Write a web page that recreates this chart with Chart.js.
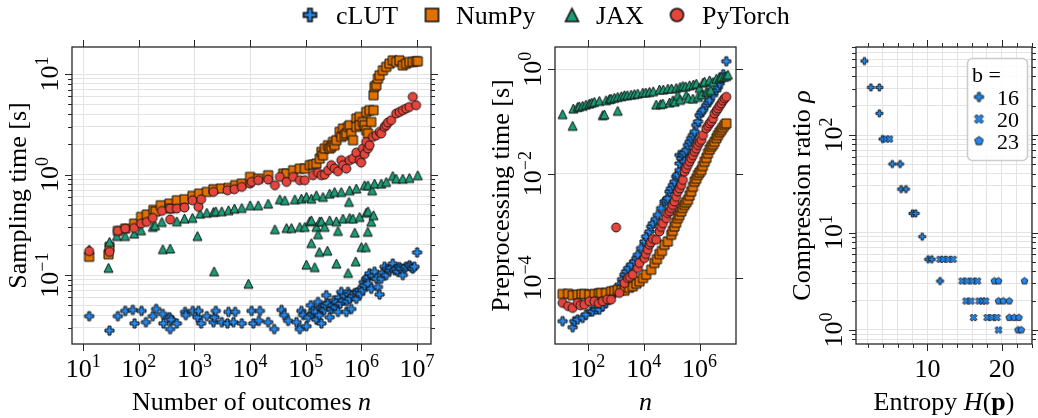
<!DOCTYPE html>
<html>
<head>
<meta charset="utf-8">
<script src="https://cdn.jsdelivr.net/npm/chart.js@4.4.1/dist/chart.umd.min.js"></script>
<style>
  body { margin: 0; background: #fff; width: 1038px; height: 418px; overflow: hidden; position: relative; }
  canvas { position: absolute; left: 0; top: 0; }
</style>
</head>
<body>
<canvas id="c1" width="1038" height="418"></canvas>
<canvas id="c2" width="1038" height="418"></canvas>
<canvas id="c3" width="1038" height="418"></canvas>
<script>
// ---------- data ----------
const seriesNames = ['cLUT', 'NumPy', 'JAX', 'PyTorch'];
const seriesColors = ['#2389f0', '#e07000', '#1b9e77', '#e5453b'];

// panel 1: sampling time [s] vs number of outcomes n
const sampleCLUT = [[12.8,0.039],[29.7,0.028],[42,0.039],[57,0.044],[78,0.045],[84,0.033],[112,0.044],[134,0.034],[178,0.039],[205,0.046],[270,0.041],[277,0.033],[356,0.038],[366,0.029],[380,0.036],[482,0.033],[679,0.043],[698,0.040],[933,0.044],[1132,0.038],[1180,0.044],[1318,0.033],[1667,0.039],[2193,0.034],[2287,0.038],[2417,0.044],[3097,0.034],[3917,0.033],[4083,0.043],[5023,0.034],[5383,0.043],[7080,0.033],[10640,0.044],[11400,0.033],[14400,0.035],[15000,0.044],[21100,0.034],[27100,0.029],[36700,0.045],[40900,0.040],[48300,0.035],[68100,0.034],[78100,0.029],[83600,0.044],[89600,0.040],[102800,0.031],[110000,0.038],[123000,0.050],[130000,0.041],[135000,0.044],[150000,0.043],[155000,0.036],[166000,0.054],[175000,0.040],[185000,0.047],[191000,0.033],[204000,0.046],[215000,0.045],[225000,0.050],[234000,0.063],[250000,0.052],[269000,0.038],[288000,0.046],[300000,0.050],[320000,0.056],[340000,0.048],[354000,0.054],[379000,0.043],[400000,0.060],[420000,0.052],[435000,0.068],[466000,0.056],[500000,0.062],[535000,0.043],[550000,0.055],[573000,0.068],[600000,0.064],[614000,0.058],[658000,0.046],[700000,0.062],[755000,0.066],[808000,0.058],[850000,0.067],[927000,0.071],[950000,0.065],[1.06e6,0.071],[1.1e6,0.085],[1.14e6,0.079],[1.22e6,0.092],[1.3e6,0.095],[1.31e6,0.082],[1.40e6,0.104],[1.50e6,0.073],[1.6e6,0.098],[1.72e6,0.108],[1.85e6,0.092],[1.98e6,0.076],[2.12e6,0.064],[2.27e6,0.092],[2.4e6,0.105],[2.60e6,0.121],[2.79e6,0.100],[2.9e6,0.115],[3.19e6,0.112],[3.4e6,0.118],[3.66e6,0.130],[3.93e6,0.112],[4.2e6,0.115],[4.51e6,0.108],[4.8e6,0.120],[5.17e6,0.116],[5.54e6,0.100],[6.0e6,0.117],[6.35e6,0.121],[7.29e6,0.125],[7.8e6,0.120],[8.36e6,0.116],[8.96e6,0.121],[1.0e7,0.168]];
const sampleNumPy = [[12.8,0.152],[28.5,0.161],[29.7,0.191],[42,0.275],[57,0.29],[82.4,0.325],[110,0.379],[139,0.40],[183,0.445],[200,0.43],[248,0.495],[356,0.514],[366,0.459],[482,0.555],[661,0.568],[920,0.613],[1213,0.647],[1667,0.672],[2193,0.715],[3013,0.726],[4083,0.737],[5383,0.783],[7080,0.813],[10000,0.948],[14000,0.912],[21100,0.985],[39300,1.023],[45100,1.023],[59300,1.104],[78100,1.147],[95900,1.147],[118000,1.24],[135000,1.258],[155000,1.286],[178000,1.443],[191000,1.68],[204000,1.556],[219000,1.815],[251000,1.958],[269000,1.815],[288000,1.884],[309000,2.113],[330000,1.958],[354000,2.197],[406000,2.66],[435000,2.37],[466000,2.87],[500000,2.46],[535000,2.56],[573000,2.98],[614000,3.1],[658000,2.56],[705000,2.197],[808000,3.61],[808000,2.98],[927000,3.75],[927000,3.1],[1.06e6,3.34],[1.14e6,3.1],[1.22e6,4.2],[1.22e6,2.76],[1.31e6,2.56],[1.40e6,4.37],[1.50e6,3.34],[1.65e6,4.37],[1.65e6,6.16],[1.72e6,7.45],[1.85e6,7.74],[1.98e6,9.02],[2.12e6,9.73],[2.43e6,10.9],[2.79e6,11.8],[3.19e6,12.7],[3.66e6,13.7],[4.21e6,13.2],[4.83e6,13.7],[5.54e6,12.2],[6.35e6,12.7],[7.29e6,13.2],[8.36e6,13.2],[9.6e6,13.4],[1.03e7,13.4]];
const sampleJAX = [[12.8,0.18],[28.5,0.118],[29.7,0.214],[40.3,0.245],[56.7,0.245],[82.4,0.259],[110,0.279],[178,0.302],[196,0.313],[259,0.338],[270,0.181],[366,0.184],[482,0.343],[661,0.365],[920,0.371],[1132,0.245],[1264,0.409],[1667,0.418],[2193,0.425],[2255,0.109],[2417,0.432],[3097,0.432],[4083,0.442],[5236,0.459],[7080,0.466],[9330,0.082],[10000,0.495],[14000,0.495],[21100,0.514],[27900,0.286],[34200,0.568],[42100,0.555],[45100,0.294],[55400,0.294],[63600,0.568],[78100,0.302],[83600,0.577],[95900,0.302],[102800,0.6],[102800,0.127],[118000,0.343],[126000,0.577],[126000,0.351],[126000,0.208],[145000,0.12],[155000,0.623],[155000,0.302],[166000,0.255],[175000,0.17],[178000,0.343],[191000,0.343],[204000,0.6],[219000,0.302],[245000,0.175],[269000,0.647],[269000,0.351],[330000,0.672],[354000,0.343],[355000,0.13],[379000,0.275],[435000,0.672],[466000,0.365],[577000,0.105],[597000,0.535],[614000,0.698],[614000,0.371],[705000,0.365],[760000,0.265],[787000,0.137],[808000,0.726],[927000,0.379],[1.0e6,0.19],[1.14e6,0.783],[1.2e6,0.19],[1.22e6,0.418],[1.3e6,0.27],[1.31e6,0.783],[1.31e6,0.432],[1.5e6,0.34],[1.56e6,0.698],[1.65e6,0.394],[1.72e6,0.813],[2.27e6,0.813],[2.79e6,0.845],[3.66e6,0.97],[4.21e6,0.912],[5.54e6,0.912],[7.29e6,0.927],[1.03e7,0.985]];
const samplePyTorch = [[12.8,0.173],[29.7,0.17],[42,0.275],[57,0.29],[82.4,0.294],[110,0.325],[139,0.338],[178,0.371],[259,0.435],[366,0.357],[366,0.459],[482,0.459],[661,0.47],[920,0.555],[1180,0.477],[1318,0.568],[2193,0.672],[3917,0.698],[5236,0.715],[7080,0.754],[10000,0.813],[10640,0.845],[14000,0.879],[21100,0.892],[27900,0.783],[34200,0.948],[45100,0.845],[59300,0.948],[78100,0.879],[95900,0.879],[135000,0.985],[166000,1.04],[191000,0.985],[219000,1.0],[251000,1.104],[288000,1.24],[330000,1.15],[379000,1.079],[435000,1.389],[466000,1.24],[535000,1.147],[614000,1.389],[705000,1.443],[808000,1.655],[927000,1.389],[990000,1.316],[1.06e6,1.815],[1.14e6,1.6],[1.22e6,2.113],[1.31e6,1.815],[1.40e6,1.958],[1.61e6,2.37],[1.85e6,2.46],[2.12e6,2.66],[2.27e6,2.56],[2.60e6,2.98],[2.79e6,3.1],[3.0e6,3.3],[3.42e6,3.47],[4.21e6,4.05],[4.83e6,4.2],[5.54e6,4.37],[6.35e6,4.54],[7.29e6,4.71],[8.36e6,5.93],[9.6e6,4.9]];

// panel 2: preprocessing time [s] vs n
const prepCLUT = [[12.7,1.49e-5],[29,1.14e-5],[33.3,1.49e-5],[43.9,1.6e-5],[66.2,1.72e-5],[87,1.99e-5],[132,2.31e-5],[150,2.3e-5],[199,2.48e-5],[262,2.48e-5],[345,2.88e-5],[454,3.33e-5],[560,3.9e-5],[685,4.47e-5],[902,5.17e-5],[1100,6e-5],[1361,7.46e-5],[1700,9.5e-5],[2058,1.16e-4],[2360,1.34e-4],[2800,1.55e-4],[3567,1.8e-4],[4700,2.08e-4],[5500,2.4e-4],[6180,2.79e-4],[8130,3.74e-4],[10700,5.02e-4],[12300,6.25e-4],[16200,7.8e-4],[18600,9.7e-4],[21300,1.12e-3],[27000,1.35e-3],[32100,1.62e-3],[42300,2.18e-3],[55700,2.92e-3],[65000,3.1e-3],[73500,3.38e-3],[84200,4.53e-3],[95000,5.2e-3],[111000,6.07e-3],[127000,7.03e-3],[146000,8.77e-3],[160000,9.5e-3],[192000,0.0117],[192000,0.0157],[192000,0.0227],[220000,0.0196],[253000,0.0227],[280000,0.025],[290000,0.0169],[333000,0.0283],[382000,0.0353],[438000,0.0408],[500000,0.048],[577000,0.0548],[662000,0.0635],[760000,0.0851],[880000,0.1],[1.0e6,0.132],[1.15e6,0.15],[1.32e6,0.165],[1.73e6,0.205],[2.0e6,0.23],[2.28e6,0.256],[3.0e6,0.319],[3.96e6,0.397],[4.5e6,0.45],[5.2e6,0.532],[5.97e6,0.663],[7e6,0.8],[9.0e6,1.42]];
const prepNumPy = [[12.7,4.94e-5],[20,5e-5],[29,4.67e-5],[43.9,4.8e-5],[60,4.9e-5],[76,4.94e-5],[115,4.8e-5],[173,4.94e-5],[250,5.1e-5],[301,5.17e-5],[454,5.17e-5],[685,5.56e-5],[900,5.7e-5],[1188,5.98e-5],[1600,5.9e-5],[2058,5.73e-5],[3000,6.5e-5],[4090,6.93e-5],[5500,7.8e-5],[7100,8.63e-5],[9500,1.0e-4],[12300,1.16e-4],[18600,1.44e-4],[24400,1.94e-4],[30000,2.3e-4],[36900,2.87e-4],[45000,3.3e-4],[55700,4.33e-4],[73500,5.02e-4],[96600,6.73e-4],[110000,8e-4],[127000,9.7e-4],[145000,1.15e-3],[167000,1.4e-3],[190000,1.6e-3],[220000,1.88e-3],[250000,2.2e-3],[290000,2.52e-3],[330000,2.8e-3],[382000,3.14e-3],[440000,3.8e-3],[503000,4.53e-3],[580000,5.6e-3],[662000,7.03e-3],[760000,8e-3],[872000,9.44e-3],[1.0e6,0.0105],[1.15e6,0.0117],[1.3e6,0.014],[1.51e6,0.0169],[1.75e6,0.02],[1.99e6,0.0245],[2.3e6,0.029],[2.62e6,0.0328],[3.0e6,0.036],[3.44e6,0.0408],[4.0e6,0.048],[4.54e6,0.0548],[5.2e6,0.062],[5.97e6,0.0683],[6.8e6,0.076],[7.87e6,0.0851],[9.0e6,0.0916]];
const prepJAX = [[12.7,0.138],[29,0.0826],[30.7,0.177],[43.9,0.19],[50,0.195],[66.2,0.20],[87,0.211],[115,0.221],[140,0.23],[173,0.238],[262,0.248],[345,0.132],[395,0.136],[454,0.256],[600,0.27],[685,0.275],[900,0.285],[1188,0.16],[1188,0.296],[1600,0.305],[2058,0.319],[2600,0.32],[3567,0.328],[4700,0.335],[6180,0.343],[9330,0.358],[12000,0.36],[16200,0.369],[22000,0.38],[28100,0.211],[36900,0.409],[40000,0.215],[48600,0.221],[50000,0.41],[73500,0.427],[84200,0.231],[100000,0.43],[111000,0.256],[130000,0.24],[146000,0.44],[167000,0.319],[200000,0.46],[200000,0.26],[253000,0.481],[320000,0.47],[333000,0.319],[400000,0.28],[438000,0.495],[577000,0.275],[600000,0.51],[760000,0.532],[872000,0.296],[1.0e6,0.44],[1.2e6,0.33],[1.32e6,0.556],[1.5e6,0.58],[1.73e6,0.369],[2.0e6,0.37],[2.28e6,0.617],[2.5e6,0.40],[3.0e6,0.573],[3.96e6,0.663],[5.2e6,0.683],[5.97e6,0.714],[7.5e6,0.72],[9.0e6,0.746],[1.03e7,0.791]];
const prepPyTorch = [[12.7,3.33e-5],[20,2.9e-5],[29,2.67e-5],[43.9,3.33e-5],[55,3.0e-5],[76,3.09e-5],[115,3.58e-5],[173,3.58e-5],[250,3.3e-5],[345,3.58e-5],[500,3.9e-5],[685,3.85e-5],[1035,9.3e-4],[1361,5.17e-5],[2058,8.0e-5],[2710,1.0e-4],[3200,1.05e-4],[4090,1.16e-4],[6180,1.55e-4],[7100,1.94e-4],[10700,2.41e-4],[12000,2.9e-4],[14100,3.48e-4],[16200,4.33e-4],[18000,4.8e-4],[21300,5.65e-4],[28100,5.4e-4],[36900,7.8e-4],[42000,9.5e-4],[48600,1.12e-3],[64000,1.4e-3],[73500,1.75e-3],[85000,1.9e-3],[96600,2.18e-3],[110000,2.5e-3],[127000,2.92e-3],[145000,3.6e-3],[167000,4.53e-3],[195000,5.2e-3],[220000,6.07e-3],[253000,7.57e-3],[290000,0.0109],[330000,0.0125],[382000,0.0147],[440000,0.017],[503000,0.0196],[580000,0.0225],[662000,0.0263],[760000,0.03],[872000,0.0353],[1.0e6,0.04],[1.15e6,0.044],[1.32e6,0.0548],[1.73e6,0.0735],[2.0e6,0.082],[2.28e6,0.0916],[2.6e6,0.1],[3.0e6,0.114],[3.44e6,0.142],[4.0e6,0.16],[4.54e6,0.177],[5.2e6,0.2],[5.97e6,0.221],[6.8e6,0.25],[7.87e6,0.275],[9.0e6,0.296]];

// panel 3: compression ratio rho vs entropy H(p), one list per bit width b
const bitWidths = ['16', '20', '23'];
const ratioB16 = [[1.53,574],[2.40,308],[3.54,308],[3.54,167],[3.97,91],[5.28,50.4],[6.33,50.4],[6.46,27.9],[7.12,27.9],[7.99,15.7],[8.43,15.7],[9.3,9.06],[10.09,5.31],[10.6,5.31],[11.7,3.18]];
const ratioB20 = [[4.45,91],[4.9,91],[11.7,5.31],[12.14,5.31],[12.8,5.31],[13.45,5.31],[14.67,3.18],[15.33,3.18],[16.07,3.18],[16.72,3.18],[15.2,1.98],[15.85,1.98],[16.94,1.98],[17.4,1.98],[17.82,1.98],[16.2,1.34],[18.03,1.34],[18.69,1.34],[19.34,1.34],[19.56,1.0]];
const ratioB23 = [[19.0,3.18],[19.56,3.18],[23.06,3.18],[19.56,1.98],[20.2,1.98],[21.0,1.98],[21.0,1.34],[21.66,1.34],[22.3,1.34],[22.18,1.0],[22.62,1.0]];

// axis ranges and ticks
const p1XRange = [6.3, 1.78e7], p1YRange = [0.0206, 18.6];
const p2XRange = [6.8, 2.0e7],  p2YRange = [5.44e-6, 2.67];
const p3XRange = [0.4, 24.06],  p3YRange = [0.718, 800];
const p1XExp = [1, 2, 3, 4, 5, 6, 7], p1YExp = [-1, 0, 1];
const p2XExp = [2, 4, 6],             p2YExp = [-4, -2, 0];
const p3XMajor = [10, 20],            p3YExp = [0, 1, 2];

// ---------- styling helpers ----------
const W = 1038, H = 418;
const INK = '#262626';
const GRID = '#e3e3e3';
const SERIF = '"Liberation Serif", "DejaVu Serif", serif';
const TXT = 26, SUP = 18;
const TICK_BASE = 377, TITLE_BASE = 410;

function logSteps(lo, hi, withDecades) {
  const out = [];
  for (let e = Math.floor(Math.log10(lo)); e <= Math.ceil(Math.log10(hi)); e++) {
    for (let m = 1; m <= 9; m++) {
      const v = m * Math.pow(10, e);
      if (v < lo || v > hi) continue;
      if (m === 1 && !withDecades) continue;
      out.push(v);
    }
  }
  return out;
}

function marker(shape, size, fill, lw) {
  const s = Math.ceil(size + 2 * lw + 2);
  const c = document.createElement('canvas');
  c.width = c.height = s;
  const g = c.getContext('2d');
  const h = s / 2, r = size / 2;
  const poly = (pts, k) => { pts.forEach((p, i) => i ? g.lineTo(h + p[0] * k, h - p[1] * k) : g.moveTo(h + p[0] * k, h - p[1] * k)); g.closePath(); };
  g.beginPath();
  if (shape === 'circle') g.arc(h, h, r, 0, Math.PI * 2);
  else if (shape === 'square') g.rect(h - r, h - r, size, size);
  else if (shape === 'triangle') poly([[0, 1], [1, -1], [-1, -1]], r);
  else if (shape === 'plus') poly([[-1,-3],[1,-3],[1,-1],[3,-1],[3,1],[1,1],[1,3],[-1,3],[-1,1],[-3,1],[-3,-1],[-1,-1]], size / 6);
  else if (shape === 'x') poly([[-1,-2],[0,-1],[1,-2],[2,-1],[1,0],[2,1],[1,2],[0,1],[-1,2],[-2,1],[-1,0],[-2,-1]], size / 4);
  else if (shape === 'pentagon') poly([0,1,2,3,4].map(i => [Math.sin(i * 2 * Math.PI / 5), Math.cos(i * 2 * Math.PI / 5)]), r);
  g.fillStyle = fill; g.fill();
  g.lineWidth = lw; g.strokeStyle = '#111'; g.stroke();
  return c;
}

const shapes = ['plus', 'square', 'triangle', 'circle'];
const bigMarkers = shapes.map((s, i) => marker(s, 9, seriesColors[i], 1));
const legendMarkers = shapes.map((s, i) => marker(s, 13, seriesColors[i], 1.6));
const bMarkers = ['plus', 'x', 'pentagon'].map(s => marker(s, 7, seriesColors[0], 0.9));
const bLegendMarkers = ['plus', 'x', 'pentagon'].map(s => marker(s, 9, seriesColors[0], 0.9));

// text runs: [{t, style, px, dy}]
function drawRuns(ctx, runs, x, y, align, rot) {
  ctx.save();
  ctx.translate(x, y);
  if (rot) ctx.rotate(-Math.PI / 2);
  ctx.textBaseline = 'alphabetic';
  ctx.textAlign = 'left';
  ctx.fillStyle = '#000';
  let total = 0;
  const widths = runs.map(r => {
    ctx.font = (r.style || '') + ' ' + (r.px || TXT) + 'px ' + SERIF;
    const w = ctx.measureText(r.t).width;
    total += w;
    return w;
  });
  let cx = align === 'center' ? -total / 2 : align === 'right' ? -total : 0;
  runs.forEach((r, i) => {
    ctx.font = (r.style || '') + ' ' + (r.px || TXT) + 'px ' + SERIF;
    ctx.fillText(r.t, cx, r.dy || 0);
    cx += widths[i];
  });
  ctx.restore();
}
const pow10 = e => [{t: '10'}, {t: String(e).replace('-', '\u2212'), px: SUP, dy: -10.5}];
const plain = t => [{t}];

// frame, ticks, tick labels and axis titles in matplotlib style
const mplAxes = {
  id: 'mplAxes',
  afterDatasetsDraw(chart, args, o) {
    const ctx = chart.ctx, a = chart.chartArea, sx = chart.scales.x, sy = chart.scales.y;
    ctx.save();
    ctx.strokeStyle = INK;
    ctx.lineWidth = 1;
    const seg = (x1, y1, x2, y2) => { ctx.beginPath(); ctx.moveTo(x1, y1); ctx.lineTo(x2, y2); ctx.stroke(); };
    const px = v => Math.round(sx.getPixelForValue(v)) + 0.5;
    const py = v => Math.round(sy.getPixelForValue(v)) + 0.5;
    [[o.xMajor, 7], [o.xMinor, 4]].forEach(([vals, len]) => vals.forEach(v => {
      const p = px(v);
      seg(p, a.bottom, p, a.bottom + len);
      seg(p, a.top, p, a.top - len);
    }));
    [[o.yMajor, 7], [o.yMinor, 4]].forEach(([vals, len]) => vals.forEach(v => {
      const p = py(v);
      seg(a.left, p, a.left - len, p);
      seg(a.right, p, a.right + len, p);
    }));
    ctx.lineWidth = 1.3;
    ctx.strokeRect(a.left, a.top, a.right - a.left, a.bottom - a.top);
    o.xLabels.forEach(l => drawRuns(ctx, l.runs, sx.getPixelForValue(l.v), TICK_BASE, 'center', false));
    o.yLabels.forEach(l => drawRuns(ctx, l.runs, a.left - 14, sy.getPixelForValue(l.v), 'center', true));
    drawRuns(ctx, o.xTitle, (a.left + a.right) / 2, TITLE_BASE, 'center', false);
    drawRuns(ctx, o.yTitle, a.left - 46, (a.top + a.bottom) / 2, 'center', true);
    ctx.restore();
  }
};

// shared legend above the three panels
const topLegend = {
  id: 'topLegend',
  afterDraw(chart) {
    const ctx = chart.ctx;
    const markX = [310, 432, 572, 677], textX = [336, 456, 596, 702];
    seriesNames.forEach((name, i) => {
      const m = legendMarkers[i];
      ctx.drawImage(m, markX[i] - m.width / 2, 15 - m.height / 2);
      drawRuns(ctx, plain(name), textX[i], 24, 'left', false);
    });
  }
};

// "b =" legend inside panel 3
const bLegend = {
  id: 'bLegend',
  afterDatasetsDraw(chart) {
    const ctx = chart.ctx;
    ctx.save();
    ctx.beginPath();
    ctx.roundRect(967.5, 58.5, 60, 102, 5);
    ctx.fillStyle = 'rgba(255,255,255,0.85)';
    ctx.fill();
    ctx.strokeStyle = '#cccccc';
    ctx.lineWidth = 1.6;
    ctx.stroke();
    ctx.restore();
    drawRuns(ctx, [{t: 'b =', px: 22}], 972, 82, 'left', false);
    bitWidths.forEach((b, i) => {
      const m = bLegendMarkers[i], y = 97 + i * 22;
      ctx.drawImage(m, 979 - m.width / 2, y - m.height / 2);
      drawRuns(ctx, [{t: b, px: 22}], 997, y + 7.5, 'left', false);
    });
  }
};

function scatterSet(label, data, img, order) {
  return { label, data, pointStyle: img, pointRadius: 5, pointHoverRadius: 5, order };
}

function panelOptions(area, xType, xRange, yRange, xGrid, yGrid, axes) {
  return {
    responsive: false,
    animation: false,
    events: [],
    layout: { padding: { left: area[0], top: area[1], right: W - area[2], bottom: H - area[3] } },
    plugins: { legend: { display: false }, tooltip: { enabled: false }, mplAxes: axes },
    scales: {
      x: {
        type: xType, min: xRange[0], max: xRange[1], bounds: 'data',
        afterBuildTicks: s => { s.ticks = xGrid.map(v => ({ value: v })); },
        afterFit: s => { s.height = 0; },
        ticks: { display: false },
        grid: { color: GRID, lineWidth: 1, drawTicks: false },
        border: { display: false }
      },
      y: {
        type: 'logarithmic', min: yRange[0], max: yRange[1], bounds: 'data',
        afterBuildTicks: s => { s.ticks = yGrid.map(v => ({ value: v })); },
        afterFit: s => { s.width = 0; },
        ticks: { display: false },
        grid: { color: GRID, lineWidth: 1, drawTicks: false },
        border: { display: false }
      }
    }
  };
}

// ---------- panel 1: sampling time ----------
const p1Decades = p1XExp.map(e => Math.pow(10, e));
const p1YMinor = logSteps(p1YRange[0], p1YRange[1], false);
new Chart(document.getElementById('c1'), {
  type: 'scatter',
  data: { datasets: [sampleCLUT, sampleNumPy, sampleJAX, samplePyTorch].map((d, i) => scatterSet(seriesNames[i], d, bigMarkers[i], 3 - i)) },
  options: panelOptions([72, 47, 431, 344], 'logarithmic', p1XRange, p1YRange, p1Decades,
    logSteps(p1YRange[0], p1YRange[1], true), {
      xMajor: p1Decades, xMinor: [],
      yMajor: p1YExp.map(e => Math.pow(10, e)), yMinor: p1YMinor,
      xLabels: p1XExp.map(e => ({ v: Math.pow(10, e), runs: pow10(e) })),
      yLabels: p1YExp.map(e => ({ v: Math.pow(10, e), runs: pow10(e) })),
      xTitle: [{t: 'Number of outcomes '}, {t: 'n', style: 'italic'}],
      yTitle: plain('Sampling time [s]')
    }),
  plugins: [mplAxes, topLegend]
});

// ---------- panel 2: preprocessing time ----------
const p2XVals = p2XExp.map(e => Math.pow(10, e)), p2YVals = p2YExp.map(e => Math.pow(10, e));
new Chart(document.getElementById('c2'), {
  type: 'scatter',
  data: { datasets: [prepCLUT, prepNumPy, prepJAX, prepPyTorch].map((d, i) => scatterSet(seriesNames[i], d, bigMarkers[i], 3 - i)) },
  options: panelOptions([555, 47, 736, 344], 'logarithmic', p2XRange, p2YRange, p2XVals, p2YVals, {
    xMajor: p2XVals, xMinor: [], yMajor: p2YVals, yMinor: [],
    xLabels: p2XExp.map(e => ({ v: Math.pow(10, e), runs: pow10(e) })),
    yLabels: p2YExp.map(e => ({ v: Math.pow(10, e), runs: pow10(e) })),
    xTitle: [{t: 'n', style: 'italic'}],
    yTitle: plain('Preprocessing time [s]')
  }),
  plugins: [mplAxes]
});

// ---------- panel 3: compression ratio ----------
const p3XGrid = [2, 4, 6, 8, 10, 12, 14, 16, 18, 20, 22, 24];
const p3YMajor = p3YExp.map(e => Math.pow(10, e));
new Chart(document.getElementById('c3'), {
  type: 'scatter',
  data: { datasets: [ratioB16, ratioB20, ratioB23].map((d, i) => scatterSet('b = ' + bitWidths[i], d, bMarkers[i], 2 - i)) },
  options: panelOptions([856, 47, 1036, 344], 'linear', p3XRange, p3YRange, p3XGrid,
    logSteps(p3YRange[0], p3YRange[1], true), {
      xMajor: p3XMajor, xMinor: p3XGrid.filter(v => p3XMajor.indexOf(v) < 0),
      yMajor: p3YMajor, yMinor: logSteps(p3YRange[0], p3YRange[1], false),
      xLabels: p3XMajor.map(v => ({ v, runs: plain(String(v)) })),
      yLabels: p3YExp.map(e => ({ v: Math.pow(10, e), runs: pow10(e) })),
      xTitle: [{t: 'Entropy '}, {t: 'H', style: 'italic'}, {t: '('}, {t: 'p', style: 'bold'}, {t: ')'}],
      yTitle: [{t: 'Compression ratio '}, {t: '\u03c1', style: 'italic'}]
    }),
  plugins: [mplAxes, bLegend]
});
</script>
</body>
</html>
